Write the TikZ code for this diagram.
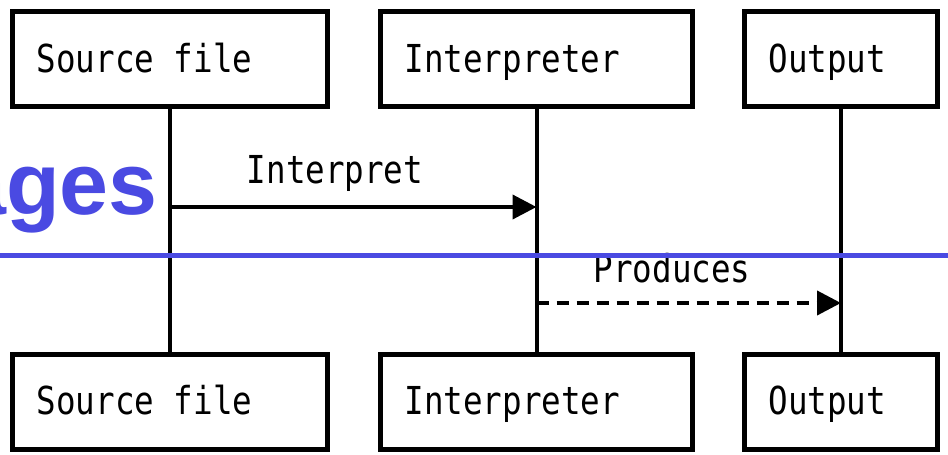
\documentclass[tikz,border=0pt]{standalone}
\usepackage{fontspec}
\usetikzlibrary{arrows.meta}
\newfontfamily\monof[FakeStretch=0.845]{DejaVu Sans Mono}
\newfontfamily\headf{Liberation Sans}
\definecolor{headblue}{RGB}{74,74,226}
\newcommand\boxlabel[2]{\makebox[#1][l]{#2}}
\tikzset{
  actor/.style={draw, line width=5pt, inner xsep=24pt, inner ysep=0pt,
    minimum height=95pt,
    font=\monof\fontsize{38.5}{40}\selectfont, text height=26pt, text depth=0pt},
  lifeline/.style={line width=4pt},
  msg/.style={line width=4pt, -{Triangle[length=24pt,width=24pt]}},
  reply/.style={msg, dash pattern=on 12pt off 8pt},
  msglabel/.style={anchor=base, inner sep=0pt, font=\monof\fontsize{38.5}{40}\selectfont},
}
\begin{document}
\begin{tikzpicture}[x=1pt,y=-1pt]
\useasboundingbox (0,0) rectangle (948,455);
\clip (0,0) rectangle (948,455);
\fill[white] (0,0) rectangle (948,455);

% heading fragment behind the diagram
\node[anchor=base east, inner sep=0pt, text=headblue,
  font=\headf\bfseries\fontsize{88}{90}\selectfont] (head) at (158,214) {Languages};

% participants, top row (text sits at the left of each box)
\node[actor] (srcT) at (170,59) {\boxlabel{266.5pt}{Source file}};
\node[actor] (intT) at (536.5,59) {\boxlabel{264pt}{Interpreter}};
\node[actor] (outT) at (841,59) {\boxlabel{145pt}{Output}};
% participants, bottom row
\node[actor] (srcB) at (170,401.5) {\boxlabel{266.5pt}{Source file}};
\node[actor] (intB) at (536.5,401.5) {\boxlabel{264pt}{Interpreter}};
\node[actor] (outB) at (841,401.5) {\boxlabel{145pt}{Output}};

% lifelines
\draw[lifeline] (srcT.south) -- (srcB.north);
\draw[lifeline] (intT.south) -- (intB.north);
\draw[lifeline] (outT.south) -- (outB.north);

% messages
\coordinate (m1s) at (170,207);
\coordinate (m1e) at (536.5,207);
\coordinate (m2s) at (536.5,303);
\coordinate (m2e) at (841,303);
\draw[msg] (m1s) -- (m1e);
\node[msglabel] (m1l) at (335,183) {Interpret};
\draw[reply] (m2s) -- (m2e);
\node[msglabel] (m2l) at (672,282) {Produces};

% rule across the page
\draw[headblue, line width=5pt] (0,255) -- (948,255);
\end{tikzpicture}
\end{document}
